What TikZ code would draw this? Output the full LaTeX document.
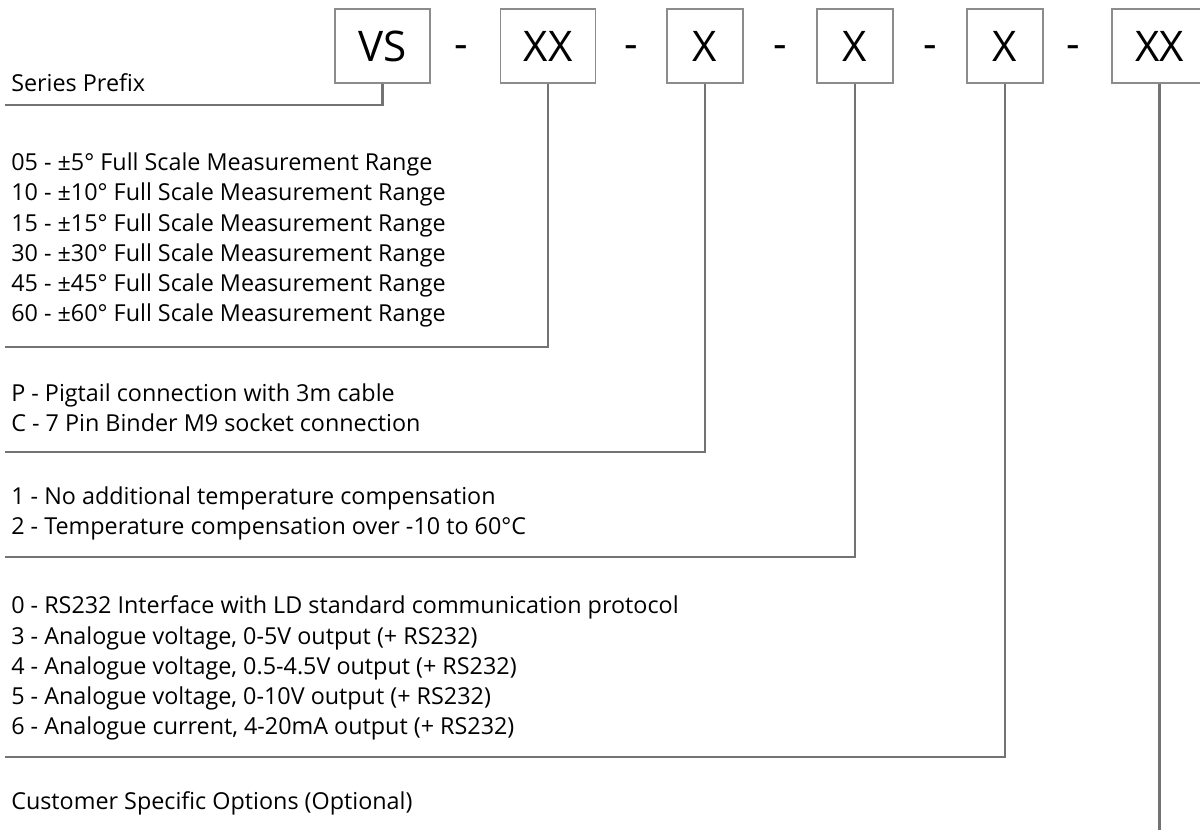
\documentclass[tikz,border=0pt]{standalone}
\usepackage{fontspec}
\setmainfont{Open Sans}
\usetikzlibrary{calc,positioning}

\begin{document}
\begin{tikzpicture}[x=0.025cm, y=-0.025cm,
    codebox/.style={draw=black!45,line width=1pt,minimum height=74*0.025cm,inner sep=0pt,font=\fontsize{30}{30}\selectfont},
    sep/.style={font=\fontsize{30}{30}\selectfont},
    opt/.style={anchor=west,align=left,inner sep=0pt,font=\fontsize{16.6}{21.4}\selectfont},
    lead/.style={draw=black!55,line width=1.5pt}]
  \useasboundingbox (0,0) rectangle (1200,830);

  % code boxes
  \node[codebox,minimum width=95*0.025cm] (vs) at (382.5,46) {VS};
  \node[codebox,minimum width=95*0.025cm] (range) at (548,46) {XX};
  \node[codebox,minimum width=76*0.025cm] (conn) at (705,46) {X};
  \node[codebox,minimum width=76*0.025cm] (temp) at (855,46) {X};
  \node[codebox,minimum width=76*0.025cm] (out) at (1005,46) {X};
  \node[codebox,minimum width=95*0.025cm] (cust) at (1159.5,46) {XX};

  \node[sep] (d1) at (461,52) {-};
  \node[sep] (d2) at (631,52) {-};
  \node[sep] (d3) at (780,52) {-};
  \node[sep] (d4) at (930,52) {-};
  \node[sep] (d5) at (1073,52) {-};

  % option texts
  \node[opt] (tvs) at (11,83) {Series Prefix};
  \node[opt] (trange) at (11,240) {05 - ±5° Full Scale Measurement Range\\
    10 - ±10° Full Scale Measurement Range\\
    15 - ±15° Full Scale Measurement Range\\
    30 - ±30° Full Scale Measurement Range\\
    45 - ±45° Full Scale Measurement Range\\
    60 - ±60° Full Scale Measurement Range};
  \node[opt] (tconn) at (11,407.5) {P - Pigtail connection with 3m cable\\
    C - 7 Pin Binder M9 socket connection};
  \node[opt] (ttemp) at (11,513) {1 - No additional temperature compensation\\
    2 - Temperature compensation over -10 to 60°C};
  \node[opt] (tout) at (11,668) {0 - RS232 Interface with LD standard communication protocol\\
    3 - Analogue voltage, 0-5V output (+ RS232)\\
    4 - Analogue voltage, 0.5-4.5V output (+ RS232)\\
    5 - Analogue voltage, 0-10V output (+ RS232)\\
    6 - Analogue current, 4-20mA output (+ RS232)};
  \node[opt] (tcust) at (11,803) {Customer Specific Options (Optional)};

  % leader lines
  \coordinate (evs) at (5,105);
  \coordinate (erange) at (5,347);
  \coordinate (econn) at (5,452);
  \coordinate (etemp) at (5,557);
  \coordinate (eout) at (5,757);
  \coordinate (ecust) at (1159.5,830);
  \draw[lead] (vs.south) |- (evs);
  \draw[lead] (range.south) |- (erange);
  \draw[lead] (conn.south) |- (econn);
  \draw[lead] (temp.south) |- (etemp);
  \draw[lead] (out.south) |- (eout);
  \draw[lead] (cust.south) -- (ecust);
\end{tikzpicture}
\end{document}
